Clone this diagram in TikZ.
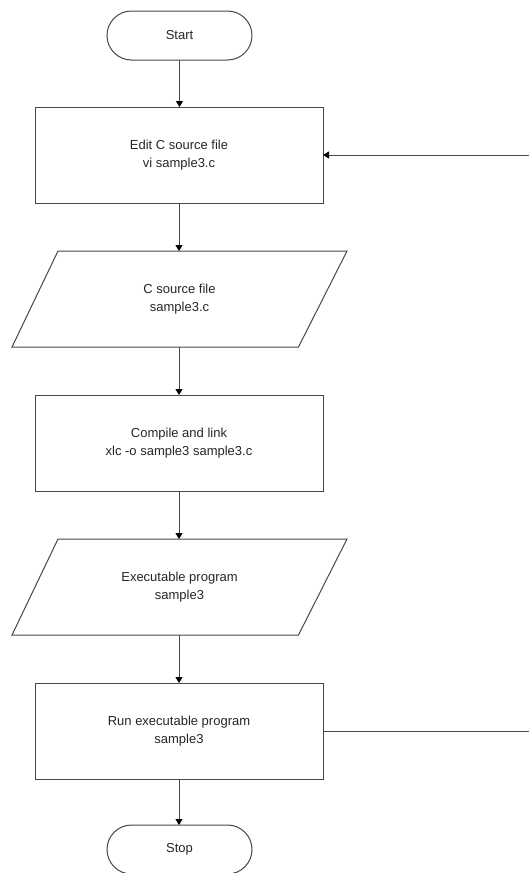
\documentclass[tikz,border=0pt]{standalone}
\usepackage{fontspec}
\setmainfont{Liberation Sans}
\usetikzlibrary{arrows.meta,shapes.misc,calc}
\tikzset{
  ln/.style={draw=black!72, line width=1pt},
  txt/.style={font=\fontsize{13}{18}\selectfont, align=center, text=black!85},
  term/.style={ln, txt, rounded rectangle, minimum width=145pt, minimum height=49pt, inner sep=0pt, outer sep=0pt},
  proc/.style={ln, txt, rectangle, minimum width=288pt, minimum height=96pt, inner sep=0pt, outer sep=0pt},
  iobox/.style={txt, rectangle, minimum width=289pt, minimum height=96pt, inner sep=0pt, outer sep=0pt},
  arr/.style={ln, -{Triangle[length=6pt,width=7pt,color=black]}}
}
\begin{document}
\begin{tikzpicture}[x=1pt,y=-1pt]
\useasboundingbox (0,0) rectangle (529,873);
\node[term] (start) at (179.5,35.5) {Start};
\node[proc] (edit) at (179,155) {Edit C source file\\vi sample3.c};
\node[iobox] (src) at (179.5,299) {C source file\\sample3.c};
\node[proc] (comp) at (179,443) {Compile and link\\xlc -o sample3 sample3.c};
\node[iobox] (exe) at (179.5,587) {Executable program\\sample3};
\node[proc] (run) at (179,731) {Run executable program\\sample3};
\node[term] (stop) at (179.5,849.5) {Stop};
\foreach \p in {src,exe}{
  \draw[ln] ($(\p.north)+(-121.5,0)$) -- ($(\p.north)+(167.5,0)$) -- ($(\p.south)+(119,0)$) -- ($(\p.south)+(-167.5,0)$) -- cycle;
}
\draw[arr] (start.south) -- (edit.north -| start.south);
\draw[arr] (edit.south) -- (src.north -| edit.south);
\draw[arr] (src.south -| edit.south) -- (comp.north);
\draw[arr] (comp.south) -- (exe.north -| comp.south);
\draw[arr] (exe.south -| comp.south) -- (run.north);
\draw[arr] (run.south) -- (stop.north -| run.south);
\coordinate (fbA) at (531,731);
\coordinate (fbB) at (531,155);
\draw[ln] (run.east) -- (fbA) -- (fbB);
\draw[arr] (fbB) -- (edit.east);
\end{tikzpicture}
\end{document}
